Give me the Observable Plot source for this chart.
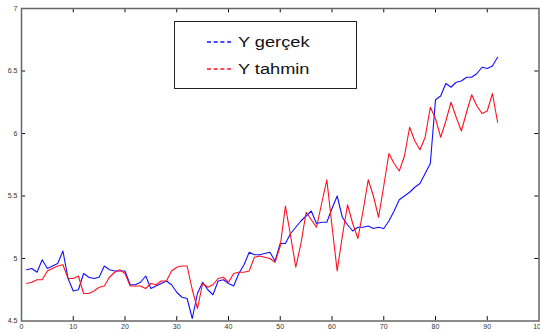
<!DOCTYPE html>
<html><head><meta charset="utf-8">
<script src="https://cdn.jsdelivr.net/npm/d3@7"></script>
<script src="https://cdn.jsdelivr.net/npm/@observablehq/plot@0.6"></script>
<style>
body{margin:0;background:#fff;}
#wrap{position:relative;width:540px;height:333px;overflow:hidden;}
#legend{position:absolute;left:174px;top:21px;width:181px;height:66px;border:1.5px solid #222;background:#fff;font-family:"Liberation Sans",Arial,sans-serif;}
.item{position:absolute;left:32px;height:16px;display:flex;align-items:center;}
.item svg{margin-right:4px;}
.lab{font-size:14px;color:#111;transform:scaleX(1.3);transform-origin:left center;white-space:nowrap;}
</style>
</head><body>
<div id="wrap"><div id="chart"></div>
<div id="legend"></div></div>
<script>
const seriesNames = ["Y gerçek", "Y tahmin"];
const seriesColors = ["#1010ff", "#ff1020"];
const xTicks = [0,10,20,30,40,50,60,70,80,90,100];
const yTicks = [4.5,5,5.5,6,6.5,7];
const yGercek = [4.91,4.92,4.89,4.99,4.92,4.94,4.96,5.06,4.84,4.74,
 4.75,4.88,4.85,4.84,4.85,4.94,4.91,4.90,4.90,4.90,
 4.79,4.79,4.81,4.86,4.76,4.78,4.80,4.82,4.79,4.73,
 4.69,4.68,4.52,4.72,4.81,4.75,4.71,4.82,4.83,4.80,
 4.78,4.88,4.95,5.05,5.03,5.03,5.04,5.05,4.98,5.12,
 5.12,5.20,5.25,5.30,5.34,5.38,5.28,5.29,5.29,5.40,
 5.50,5.33,5.27,5.22,5.25,5.25,5.26,5.24,5.25,5.24,
 5.30,5.38,5.47,5.50,5.53,5.57,5.60,5.68,5.76,6.27,
 6.30,6.40,6.37,6.41,6.42,6.45,6.45,6.48,6.53,6.52,
 6.54,6.61];
const yTahmin = [4.80,4.81,4.83,4.83,4.90,4.92,4.94,4.95,4.84,4.84,
 4.86,4.72,4.72,4.74,4.77,4.78,4.85,4.89,4.91,4.88,
 4.78,4.78,4.78,4.76,4.80,4.79,4.82,4.82,4.90,4.93,
 4.94,4.94,4.75,4.60,4.80,4.77,4.79,4.84,4.85,4.81,
 4.88,4.89,4.89,4.90,5.01,5.02,5.01,5.00,4.97,5.10,
 5.42,5.18,4.93,5.12,5.37,5.31,5.25,5.44,5.63,5.26,
 4.90,5.18,5.43,5.28,5.16,5.38,5.63,5.50,5.33,5.58,
 5.84,5.76,5.70,5.82,6.05,5.94,5.87,5.97,6.21,6.12,
 5.97,6.10,6.25,6.13,6.02,6.17,6.31,6.22,6.16,6.18,
 6.32,6.09];

const data = yGercek.map((v,i)=>({x:i+1, gercek:v, tahmin:yTahmin[i]}));
const inner = xTicks.slice(1,-1);
const innerY = yTicks.slice(1,-1);

const chart = Plot.plot({
  width:540, height:333,
  marginLeft:21, marginRight:1.5, marginTop:8, marginBottom:12.5,
  style:{fontFamily:"Liberation Sans, Arial, sans-serif", background:"#fff", overflow:"visible"},
  x:{domain:[0,100]},
  y:{domain:[4.5,7]},
  marks:[
    Plot.line(data,{x:"x",y:"gercek",stroke:seriesColors[0],strokeWidth:1.1}),
    Plot.line(data,{x:"x",y:"tahmin",stroke:seriesColors[1],strokeWidth:1.1}),
    Plot.ruleX(inner,{x:d=>d,y1:4.5,y2:4.535,stroke:"#111",strokeWidth:1}),
    Plot.ruleX(inner,{x:d=>d,y1:7,y2:6.965,stroke:"#111",strokeWidth:1}),
    Plot.ruleY(innerY,{y:d=>d,x1:0,x2:0.8,stroke:"#111",strokeWidth:1}),
    Plot.ruleY(innerY,{y:d=>d,x1:100,x2:99.2,stroke:"#111",strokeWidth:1}),
    Plot.frame({stroke:"#666",strokeWidth:1.5}),
    Plot.axisX(xTicks,{anchor:"bottom",tickSize:0,tickPadding:3,fontSize:7,fill:"#333",label:null,tickFormat:d=>String(d)}),
    Plot.axisY(yTicks,{anchor:"left",tickSize:0,tickPadding:4,fontSize:7,fill:"#333",label:null,tickFormat:d=>String(d)})
  ]
});
document.getElementById("chart").appendChild(chart);

const leg = document.getElementById("legend");
const ns = "http://www.w3.org/2000/svg";
seriesNames.forEach((n,i)=>{
  const it = document.createElement("div");
  it.className="item";
  it.style.top = (12 + i*27) + "px";
  const s = document.createElementNS(ns,"svg");
  s.setAttribute("width","27"); s.setAttribute("height","4");
  const l = document.createElementNS(ns,"line");
  l.setAttribute("x1","0"); l.setAttribute("x2","27");
  l.setAttribute("y1","2"); l.setAttribute("y2","2");
  l.setAttribute("stroke",seriesColors[i]);
  l.setAttribute("stroke-width","1.6");
  l.setAttribute("stroke-dasharray","4,2.7");
  s.appendChild(l);
  const t = document.createElement("span");
  t.className="lab"; t.textContent = n;
  it.appendChild(s); it.appendChild(t);
  leg.appendChild(it);
});
</script>
</body></html>
